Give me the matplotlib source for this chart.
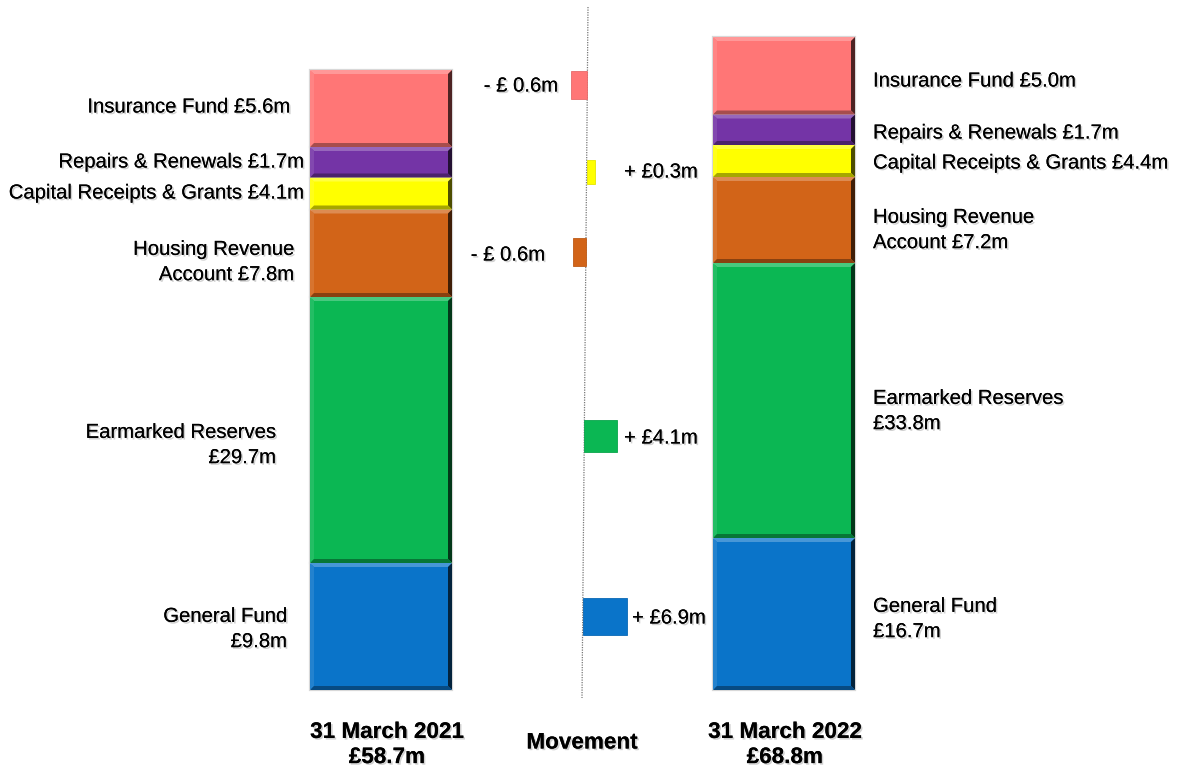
import matplotlib.pyplot as plt
import matplotlib.patheffects as pe
from matplotlib.patches import Polygon
from matplotlib.colors import to_rgb
import numpy as np

plt.rcParams['font.family'] = ['Liberation Sans', 'DejaVu Sans']

# stacked from the bottom up
funds = ['General Fund', 'Earmarked Reserves', 'Housing Revenue Account',
         'Capital Receipts & Grants', 'Repairs & Renewals', 'Insurance Fund']
colors = ['#0A74C9', '#0BB753', '#D26418', '#FFFF00', '#7434A6', '#FF7676']
values_2021 = [9.8, 29.7, 7.8, 4.1, 1.7, 5.6]
values_2022 = [16.7, 33.8, 7.2, 4.4, 1.7, 5.0]
total_2021 = 58.7
total_2022 = 68.8
# the slide is not drawn to scale: segment sizes as they appear on it
drawn_2021 = [127, 266, 87.5, 32, 30.5, 77]
drawn_2022 = [152, 275, 86, 32, 30.5, 77.5]

# movement (no bar for Repairs & Renewals)
move_funds = ['General Fund', 'Earmarked Reserves', 'Housing Revenue Account',
              'Capital Receipts & Grants', 'Insurance Fund']
move_values = [6.9, 4.1, -0.6, 0.3, -0.6]
move_drawn = [44, 33, -13, 8, -16]

label_fmt = ['General Fund\n£{:.1f}m', 'Earmarked Reserves\n£{:.1f}m',
             'Housing Revenue\nAccount £{:.1f}m', 'Capital Receipts & Grants £{:.1f}m',
             'Repairs & Renewals £{:.1f}m', 'Insurance Fund £{:.1f}m']

BASE = 690  # pixel row of the bar bottoms


def py(p):
    return BASE - p


def mix(c, other, t):
    c = np.array(to_rgb(c))
    return tuple(c * (1 - t) + np.array(other) * t)


def bevel(ax, patch, color, b=4):
    x0, y0 = patch.get_x(), patch.get_y()
    x1, y1 = x0 + patch.get_width(), y0 + patch.get_height()
    light = mix(color, (1, 1, 1), 0.25)
    dark = mix(color, (0, 0, 0), 0.35)
    darker = mix(color, (0, 0, 0), 0.7)
    sides = [
        ([(x0, y1), (x1, y1), (x1 - b, y1 - b), (x0 + b, y1 - b)], light),
        ([(x0, y1), (x0 + b, y1 - b), (x0 + b, y0 + b), (x0, y0)], mix(color, (1, 1, 1), 0.1)),
        ([(x1, y1), (x1, y0), (x1 - b, y0 + b), (x1 - b, y1 - b)], darker),
        ([(x0, y0), (x1, y0), (x1 - b, y0 + b), (x0 + b, y0 + b)], dark),
    ]
    for pts, c in sides:
        ax.add_patch(Polygon(pts, closed=True, facecolor=c, edgecolor='none', zorder=3))


shadow = [pe.withSimplePatchShadow(offset=(1.2, -1.2), shadow_rgbFace='black', alpha=0.18), pe.Normal()]

fig = plt.figure(figsize=(11.77, 7.69), dpi=100)
ax = fig.add_axes([0, 0, 1, 1])
ax.set_xlim(0, 1177)
ax.set_ylim(py(769), py(0))
ax.axis('off')

# stacked bars
for xc, drawn in [(381, drawn_2021), (784, drawn_2022)]:
    bottoms = np.concatenate([[0], np.cumsum(drawn)[:-1]])
    bars = ax.bar(xc, drawn, bottom=bottoms, width=142, color=colors,
                  edgecolor='#d8d8d8', linewidth=1.6, zorder=2)
    for bar, c in zip(bars, colors):
        bevel(ax, bar, c)

# movement axis line
line_top, line_bot = (588, py(7)), (582, py(698))
ax.plot([line_top[0], line_bot[0]], [line_top[1], line_bot[1]],
        color='#777777', lw=0.9, ls=(0, (1, 1)), zorder=1)


def line_x(y):
    return line_top[0] + (line_bot[0] - line_top[0]) * (line_top[1] - y) / (line_top[1] - line_bot[1])


move_y = [py(616), py(436), py(252), py(172), py(85)]
move_h = [37, 32, 28, 24, 28]
move_colors = [colors[funds.index(f)] for f in move_funds]
lefts = [line_x(y) for y in move_y]
ax.barh(move_y, move_drawn, left=lefts, height=move_h, color=move_colors,
        edgecolor=[mix(c, (0, 0, 0), 0.1) for c in move_colors], linewidth=0.6, zorder=2)

# labels
fs = 14.6
ls = 1.42
left_x = [287, 276, 294, 304, 304, 290]
left_y = [629, 445, 262, 193, 162, 107]
for fmt, v, x, y in zip(label_fmt, values_2021, left_x, left_y):
    ax.text(x, py(y), fmt.format(v), ha='right', va='center', multialignment='right',
            fontsize=fs, linespacing=ls, path_effects=shadow)

right_y = [619, 411, 230, 163, 133, 81]
for fmt, v, y in zip(label_fmt, values_2022, right_y):
    ax.text(873, py(y), fmt.format(v), ha='left', va='center', multialignment='left',
            fontsize=fs, linespacing=ls, path_effects=shadow)

move_lab = [(632, 618), (624, 438), (545, 255), (624, 172), (558, 86)]
for v, (x, y) in zip(move_values, move_lab):
    if v >= 0:
        ax.text(x, py(y), f'+ £{v:.1f}m', ha='left', va='center', fontsize=fs, path_effects=shadow)
    else:
        ax.text(x, py(y), f'- £ {abs(v):.1f}m', ha='right', va='center', fontsize=fs, path_effects=shadow)

tfs = 16.2
ax.text(387, py(745), f'31 March 2021\n£{total_2021:.1f}m', ha='center', va='center',
        fontsize=tfs, fontweight='bold', linespacing=1.26, path_effects=shadow)
ax.text(582, py(743), 'Movement', ha='center', va='center',
        fontsize=tfs, fontweight='bold', path_effects=shadow)
ax.text(785, py(745), f'31 March 2022\n£{total_2022:.1f}m', ha='center', va='center',
        fontsize=tfs, fontweight='bold', linespacing=1.26, path_effects=shadow)

fig.savefig('out.png', dpi=100)
